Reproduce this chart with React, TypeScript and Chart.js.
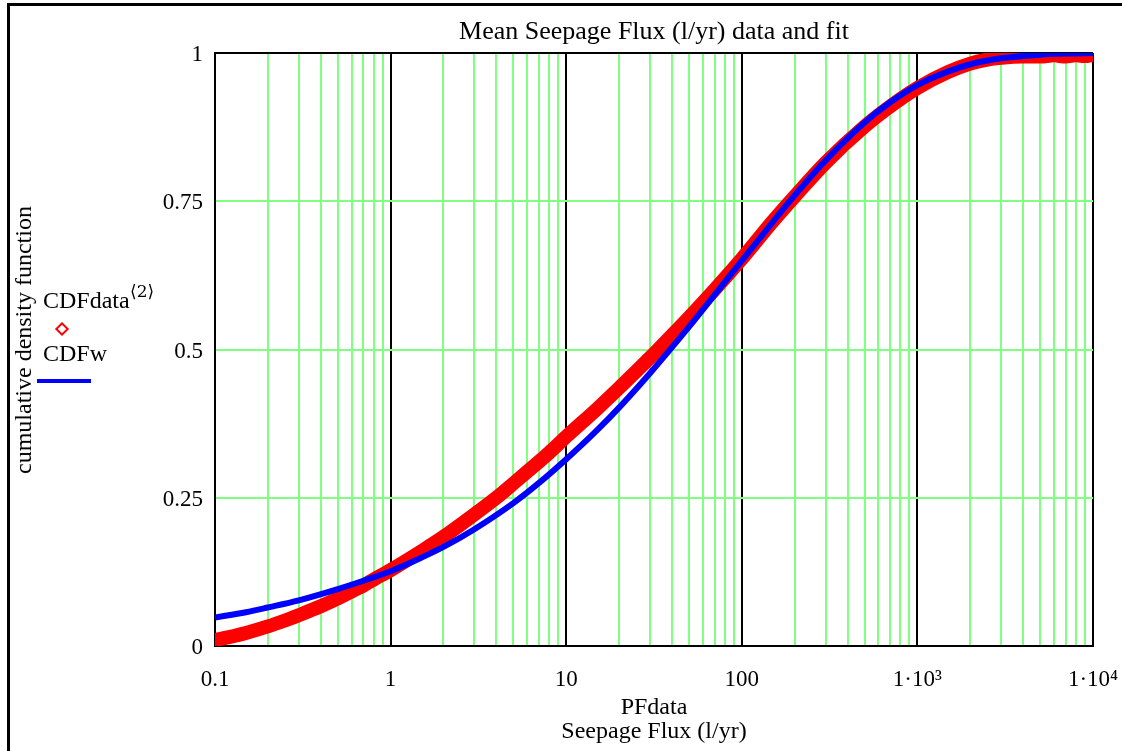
import React, { useEffect, useRef } from 'react';
import { Chart, registerables } from 'chart.js';

Chart.register(...registerables);

// ---- data ----
const redX = [0.1, 0.12, 0.15, 0.2, 0.25, 0.3, 0.4, 0.5, 0.6, 0.7, 0.8, 1, 1.5, 2, 3, 4, 5, 6, 8, 10, 15, 20, 25, 30, 40, 50, 70, 100, 150, 200, 300, 500, 700, 1000, 1500, 2000, 2500, 3000, 4000, 5000, 6000, 7000, 8000, 9000, 10000];
const redY = [0.010, 0.015, 0.022, 0.033, 0.043, 0.052, 0.067, 0.080, 0.092, 0.102, 0.112, 0.128, 0.160, 0.184, 0.222, 0.250, 0.274, 0.294, 0.326, 0.353, 0.400, 0.435, 0.463, 0.486, 0.524, 0.554, 0.601, 0.653, 0.716, 0.758, 0.815, 0.876, 0.910, 0.941, 0.968, 0.982, 0.989, 0.992, 0.994, 0.994, 0.996, 0.994, 0.996, 0.995, 0.997];

const blueX = [0.1, 0.15, 0.2, 0.3, 0.5, 0.7, 1, 1.5, 2, 3, 5, 7, 10, 15, 20, 30, 50, 70, 100, 150, 200, 300, 500, 700, 1000, 1500, 2000, 3000, 5000, 7000, 10000];
const blueY = [0.048, 0.057, 0.065, 0.077, 0.096, 0.110, 0.126, 0.149, 0.167, 0.197, 0.241, 0.275, 0.315, 0.364, 0.402, 0.460, 0.538, 0.592, 0.650, 0.715, 0.760, 0.819, 0.883, 0.917, 0.946, 0.969, 0.981, 0.991, 0.997, 0.999, 1.0];

const decadeValues = [0.1, 1, 10, 100, 1000, 10000];
const decadeLabels = ['0.1', '1', '10', '100', '1\u00B710\u00B3', '1\u00B710\u2074'];
const minorMultipliers = [2, 3, 4, 5, 6, 7, 8, 9];

const yTickValues = [0, 0.25, 0.5, 0.75, 1];
const yTickLabels = ['0', '0.25', '0.5', '0.75', '1'];

const TITLE = 'Mean Seepage Flux (l/yr) data and fit';
const X_TITLE = ['PFdata', 'Seepage Flux (l/yr)'];
const Y_TITLE = 'cumulative density function';

const FONT = '"Liberation Serif", "Times New Roman", serif';
const GREEN = '#80ff80';

function decadeIndex(v: number): number {
  for (let i = 0; i < decadeValues.length; i++) {
    if (Math.abs(v / decadeValues[i] - 1) < 1e-6) return i;
  }
  return -1;
}

export default function App() {
  const canvasRef = useRef<HTMLCanvasElement | null>(null);

  useEffect(() => {
    if (!canvasRef.current) return;
    const allTicks: number[] = [];
    decadeValues.forEach((d, i) => {
      allTicks.push(d);
      if (i < decadeValues.length - 1) minorMultipliers.forEach((m) => allTicks.push(d * m));
    });

    const chart = new Chart(canvasRef.current, {
      type: 'line',
      data: {
        datasets: [
          {
            label: 'CDFw',
            data: blueX.map((x, i) => ({ x, y: blueY[i] })),
            borderColor: '#0000ff',
            backgroundColor: '#0000ff',
            borderWidth: 6,
            pointRadius: 0,
            cubicInterpolationMode: 'monotone',
            order: 0,
            clip: 0,
          } as any,
          {
            label: 'CDFdata',
            data: redX.map((x, i) => ({ x, y: redY[i] })),
            borderColor: '#ff0000',
            backgroundColor: '#ff0000',
            borderWidth: 14,
            borderJoinStyle: 'round',
            pointStyle: 'rectRot',
            pointRadius: 6,
            pointBorderWidth: 1,
            pointBackgroundColor: '#ff0000',
            pointBorderColor: '#ff0000',
            cubicInterpolationMode: 'monotone',
            order: 1,
            clip: 0,
          } as any,
        ],
      },
      options: {
        responsive: false,
        animation: false,
        events: [],
        layout: { padding: { left: 0, top: 53, right: 29, bottom: 0 } },
        plugins: {
          legend: { display: false },
          tooltip: { enabled: false },
          title: { display: false },
        },
        scales: {
          x: {
            type: 'logarithmic',
            position: 'bottom',
            min: 0.1,
            max: 10000,
            afterBuildTicks: (scale: any) => {
              scale.ticks = allTicks.map((v) => ({ value: v, major: decadeIndex(v) >= 0 }));
            },
            afterFit: (scale: any) => {
              scale.height = 105;
              scale.paddingLeft = 0;
              scale.paddingRight = 0;
            },
            ticks: {
              autoSkip: false,
              maxRotation: 0,
              minRotation: 0,
              padding: 20,
              color: '#000',
              font: { family: FONT, size: 23 },
              callback: (value: any) => {
                const i = decadeIndex(Number(value));
                return i >= 0 ? decadeLabels[i] : '';
              },
            },
            grid: {
              drawTicks: false,
              lineWidth: 2,
              color: (ctx: any) => (ctx.tick && decadeIndex(ctx.tick.value) >= 0 ? '#000' : GREEN),
            },
            border: { display: true, color: '#000', width: 2 },
            title: {
              display: true,
              text: X_TITLE,
              color: '#000',
              font: { family: FONT, size: 24, lineHeight: 0.97 },
              padding: { top: 0, bottom: 8 },
            },
          },
          y: {
            type: 'linear',
            position: 'left',
            min: 0,
            max: 1,
            afterBuildTicks: (scale: any) => {
              scale.ticks = yTickValues.map((v) => ({ value: v }));
            },
            afterFit: (scale: any) => {
              scale.width = 215;
              scale.paddingTop = 0;
              scale.paddingBottom = 0;
            },
            ticks: {
              padding: 12,
              labelOffset: 2,
              color: '#000',
              font: { family: FONT, size: 23 },
              callback: (value: any) => {
                const i = yTickValues.indexOf(Number(value));
                return i >= 0 ? yTickLabels[i] : '';
              },
            },
            grid: {
              drawTicks: false,
              lineWidth: 2,
              color: (ctx: any) =>
                ctx.tick && (ctx.tick.value === 0 || ctx.tick.value === 1) ? '#000' : GREEN,
            },
            border: { display: true, color: '#000', width: 2 },
          },
        },
      } as any,
    });
    return () => chart.destroy();
  }, []);

  const textBase: React.CSSProperties = {
    position: 'absolute',
    fontFamily: FONT,
    fontSize: 24,
    lineHeight: '24px',
    color: '#000',
    whiteSpace: 'nowrap',
  };

  return (
    <div style={{ position: 'fixed', left: 0, top: 0, width: 1122, height: 751, background: '#fff', overflow: 'hidden' }}>
      <div
        style={{
          position: 'absolute',
          left: 7,
          top: 3,
          right: 0,
          bottom: 0,
          borderLeft: '3px solid #000',
          borderTop: '3px solid #000',
        }}
      />
      <canvas ref={canvasRef} width={1122} height={751} style={{ position: 'absolute', left: 0, top: 0 }} />
      <div style={{ ...textBase, fontSize: 26, lineHeight: '26px', left: 654, top: 18, transform: 'translateX(-50%)' }}>
        {TITLE}
      </div>
      <div
        style={{
          ...textBase,
          left: 23,
          top: 340,
          transform: 'translate(-50%, -50%) rotate(-90deg)',
        }}
      >
        {Y_TITLE}
      </div>
      <div style={{ ...textBase, left: 43, top: 288 }}>
        CDFdata
        <span style={{ position: 'absolute', left: 87, top: -9, fontSize: 17, fontFamily: '"DejaVu Serif", ' + FONT }}>
          {'\u27E82\u27E9'}
        </span>
      </div>
      <div
        style={{
          position: 'absolute',
          left: 57,
          top: 324,
          width: 6,
          height: 6,
          border: '2px solid #ff0000',
          transform: 'rotate(45deg)',
        }}
      />
      <div style={{ ...textBase, left: 43, top: 341 }}>CDFw</div>
      <div style={{ position: 'absolute', left: 37, top: 379, width: 54, height: 4, background: '#0000ff' }} />
    </div>
  );
}
